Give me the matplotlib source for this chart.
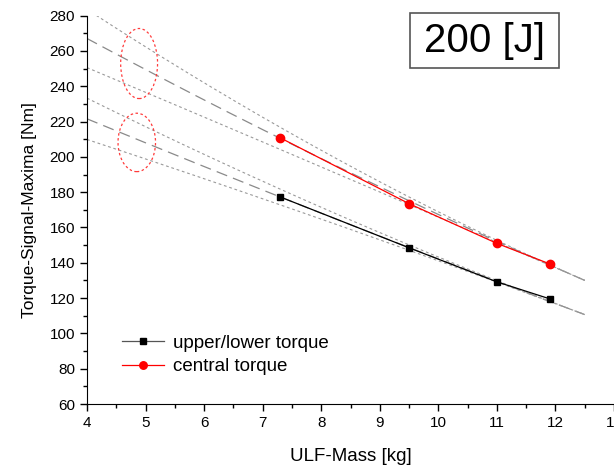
import numpy as np
import matplotlib
matplotlib.use('Agg')
import matplotlib.pyplot as plt
from matplotlib.patches import Ellipse, Rectangle

plt.rcParams['font.family'] = ['Liberation Sans', 'DejaVu Sans']

# measured points
mass = [7.3, 9.5, 11.0, 11.9]
torque_ul = [177.3, 148.5, 129.2, 119.6]
torque_central = [210.8, 173.5, 151.0, 139.4]

# fit curves at these masses, band half width at x = 4
fit_x = [4.0, 7.3, 9.5, 11.0, 12.5]
fit_ul = [221.5, 177.5, 148.5, 129.3, 110.8]
fit_central = [266.8, 211.5, 174.5, 151.5, 130.6]
band_ul = 11.7
band_central = 16.5

# highlighted spread at x ~ 4.9 (center x, center y, width, height)
ell_central = (4.89, 252.9, 0.63, 39.7)
ell_ul = (4.85, 208.2, 0.64, 33.1)

fig = plt.figure(figsize=(6.14, 4.67), dpi=100)
ax = fig.add_axes([0.1417, 0.1349, 0.8583, 0.8315])


def draw_fit(fit, hw4, xend=12.6):
    xs = np.linspace(fit_x[0], fit_x[-1], 300)
    ys = np.polyval(np.polyfit(fit_x, fit, 2), xs)
    # band narrows towards the right end
    w = hw4 * ((xend - xs) / (xend - fit_x[0]))**2
    ax.plot(xs, ys, color='#8a8a8a', lw=0.9, ls=(0, (9, 5)), zorder=1)
    ax.plot(xs, ys + w, color='#9a9a9a', lw=0.8, ls=(0, (2.5, 2.5)), zorder=1)
    ax.plot(xs, ys - w, color='#9a9a9a', lw=0.8, ls=(0, (2.5, 2.5)), zorder=1)


draw_fit(fit_central, band_central)
draw_fit(fit_ul, band_ul)

ax.plot(mass, torque_ul, color='black', lw=0.9, marker='s', ms=5,
        label='upper/lower torque', zorder=3)
ax.plot(mass, torque_central, color='red', lw=0.9, marker='o', ms=6,
        label='central torque', zorder=3)

for cx, cy, w, h in (ell_central, ell_ul):
    ax.add_patch(Ellipse((cx, cy), w, h, fill=False, edgecolor='#ff3b3b',
                         lw=0.9, ls=(0, (2, 2))))

ax.set_xlim(4, 13)
ax.set_ylim(60, 280)
ax.set_xticks(np.arange(4, 14, 1))
ax.set_xticks(np.arange(4.5, 13, 1), minor=True)
ax.set_yticks(np.arange(60, 281, 20))
ax.set_yticks(np.arange(70, 280, 20), minor=True)
ax.spines['top'].set_visible(False)
ax.spines['right'].set_visible(False)
ax.tick_params(which='major', direction='out', length=5, width=1, labelsize=11)
ax.tick_params(which='minor', direction='out', length=3, width=1)
ax.set_xlabel('ULF-Mass [kg]', fontsize=13.5, labelpad=13)
ax.set_ylabel('Torque-Signal-Maxima [Nm]', fontsize=12.5, labelpad=9)

leg = ax.legend(loc='lower left', bbox_to_anchor=(0.035, 0.03), frameon=False,
                fontsize=13.5, handlelength=2.2, handletextpad=0.5, labelspacing=0.35,
                markerscale=0.9)
leg.get_lines()[0].set_color('#555555')
leg.get_lines()[0].set_markerfacecolor('black')
leg.get_lines()[0].set_markeredgecolor('black')

fig.add_artist(Rectangle((410 / 614, 1 - 68 / 467), 149 / 614, 55 / 467,
                         transform=fig.transFigure, fill=True, fc='white',
                         ec='#555555', lw=1.2, zorder=5))
fig.text(485 / 614, 1 - 41 / 467, '200 [J]', fontsize=29, ha='center',
         va='center', zorder=6)

fig.savefig('out.png', dpi=100)
